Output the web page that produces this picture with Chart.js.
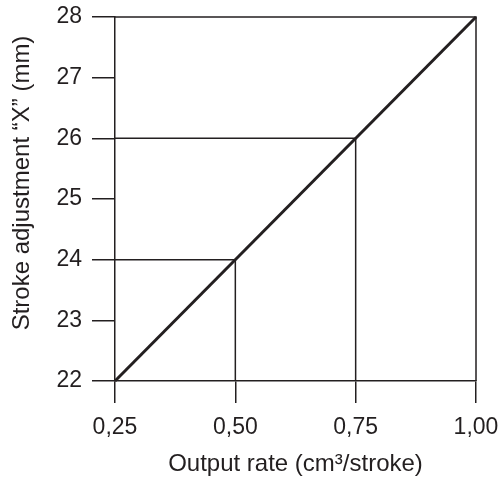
<!DOCTYPE html>
<html>
<head>
<meta charset="utf-8">
<script src="https://cdn.jsdelivr.net/npm/chart.js@4"></script>
<style>
  html, body { margin: 0; padding: 0; background: #fff; }
  #wrap { width: 504px; height: 479px; }
</style>
</head>
<body>
<div id="wrap"><canvas id="rateChart"></canvas></div>
<script>
const xTicks = [0.25, 0.50, 0.75, 1.00];
const yTicks = [22, 23, 24, 25, 26, 27, 28];

// main calibration line
const outputRate = [0.25, 1.00];
const strokeAdj = [22, 28];

// read-off guides
const guide24X = [0.25, 0.50, 0.50];
const guide24Y = [24, 24, 22];
const guide26X = [0.25, 0.75, 0.75];
const guide26Y = [26, 26, 22];

// box top and right side
const frameX = [0.25, 1.00, 1.00];
const frameY = [28, 28, 22];

const yTitle = 'Stroke adjustment “X” (mm)';

const ink = '#231f20';
const family = '"Liberation Sans", Arial, sans-serif';
const tickFont = { family, size: 23 };
const titleFont = { family, size: 24 };

const toPoints = (xs, ys) => xs.map((x, i) => ({ x, y: ys[i] }));

function thinLine(xs, ys) {
  return {
    data: toPoints(xs, ys),
    borderColor: ink,
    borderWidth: 1.5,
    pointRadius: 0,
    fill: false,
    clip: false
  };
}

// y title is set a bit above the axis centre, as in the print
const yTitlePlugin = {
  id: 'yTitle',
  afterDraw(chart) {
    const { ctx, chartArea } = chart;
    const midY = (chartArea.top + chartArea.bottom) / 2 - 16;
    ctx.save();
    ctx.translate(22, midY);
    ctx.rotate(-Math.PI / 2);
    ctx.font = `${titleFont.size}px ${family}`;
    ctx.fillStyle = ink;
    ctx.textAlign = 'center';
    ctx.textBaseline = 'middle';
    ctx.fillText(yTitle, 0, 0);
    ctx.restore();
  }
};

const ctx = document.getElementById('rateChart').getContext('2d');
new Chart(ctx, {
  type: 'line',
  data: {
    datasets: [
      thinLine(frameX, frameY),
      thinLine(guide24X, guide24Y),
      thinLine(guide26X, guide26Y),
      {
        data: toPoints(outputRate, strokeAdj),
        borderColor: ink,
        borderWidth: 3,
        pointRadius: 0,
        fill: false,
        clip: false
      }
    ]
  },
  plugins: [yTitlePlugin],
  options: {
    responsive: true,
    maintainAspectRatio: false,
    animation: false,
    layout: { padding: { top: 17, right: 28, left: 0, bottom: 0 } },
    plugins: {
      legend: { display: false },
      tooltip: { enabled: false }
    },
    scales: {
      x: {
        type: 'linear',
        min: 0.25,
        max: 1.00,
        afterBuildTicks: s => { s.ticks = xTicks.map(v => ({ value: v })); },
        afterFit: s => { s.height = 98; s.paddingLeft = 0; s.paddingRight = 0; },
        grid: { drawOnChartArea: false, drawTicks: true, tickLength: 22, color: ink, lineWidth: 1.5 },
        border: { display: true, color: ink, width: 1.5 },
        ticks: {
          color: ink,
          font: tickFont,
          padding: 11,
          maxRotation: 0,
          callback: v => v.toFixed(2).replace('.', ',')
        },
        title: {
          display: true,
          text: 'Output rate (cm³/stroke)',
          color: ink,
          font: titleFont,
          padding: { top: 0, bottom: 0 }
        }
      },
      y: {
        type: 'linear',
        min: 22,
        max: 28,
        afterBuildTicks: s => { s.ticks = yTicks.map(v => ({ value: v })); },
        afterFit: s => { s.width = 115; s.paddingTop = 0; s.paddingBottom = 0; },
        grid: { drawOnChartArea: false, drawTicks: true, tickLength: 23, color: ink, lineWidth: 1.5 },
        border: { display: true, color: ink, width: 1.5 },
        ticks: { color: ink, font: tickFont, padding: 10 }
      }
    }
  }
});
</script>
</body>
</html>
